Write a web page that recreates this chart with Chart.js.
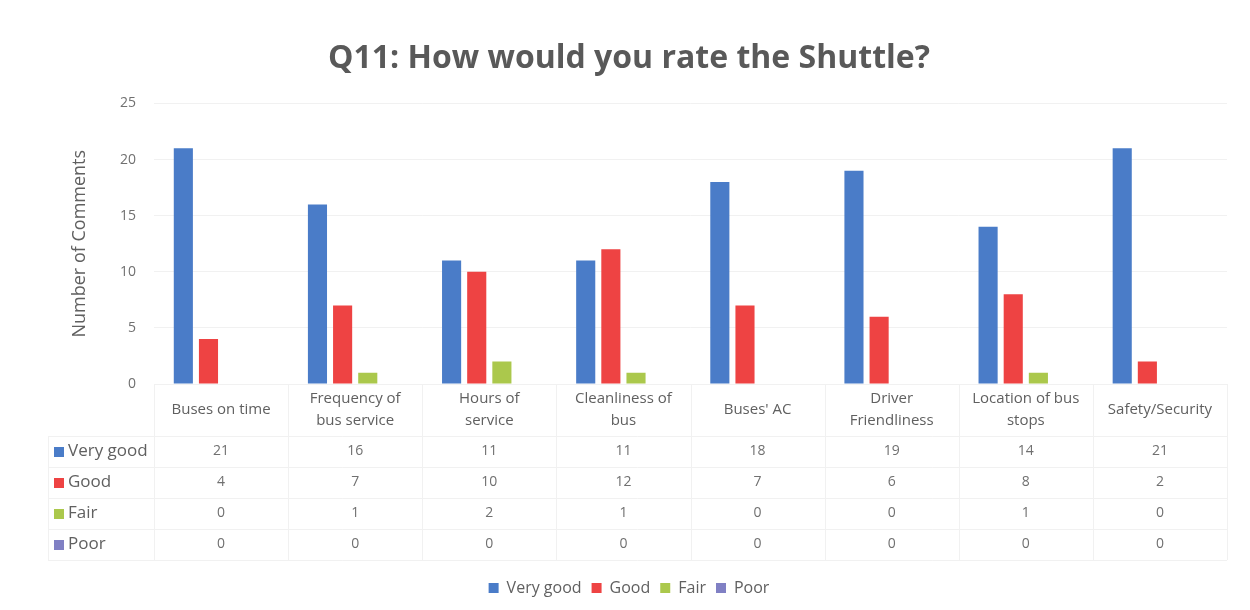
<!DOCTYPE html>
<html>
<head>
<meta charset="utf-8">
<title>Q11: How would you rate the Shuttle?</title>
<script src="https://cdn.jsdelivr.net/npm/chart.js@4.4.1/dist/chart.umd.min.js"></script>
<style>
  html, body { margin: 0; padding: 0; background: #fff; }
  #wrap { width: 1250px; height: 610px; }
</style>
</head>
<body>
<div id="wrap"><canvas id="chart"></canvas></div>
<script>
// Categories (multi-line labels as in the original table header)
const categories = [
    ['Buses on time'],
    ['Frequency of', 'bus service'],
    ['Hours of', 'service'],
    ['Cleanliness of', 'bus'],
    ["Buses' AC"],
    ['Driver', 'Friendliness'],
    ['Location of bus', 'stops'],
    ['Safety/Security']
];

const veryGood = [21, 16, 11, 11, 18, 19, 14, 21];
const good     = [4, 7, 10, 12, 7, 6, 8, 2];
const fair     = [0, 1, 2, 1, 0, 0, 1, 0];
const poor     = [0, 0, 0, 0, 0, 0, 0, 0];

const seriesNames  = ['Very good', 'Good', 'Fair', 'Poor'];
const seriesValues = [veryGood, good, fair, poor];
const seriesColors = ['#4a7cc8', '#ee4343', '#abc84c', '#8080c4'];

const yMin = 0;
const yMax = 25;
const yStep = 5;

const FONT = '"Open Sans", Lato, sans-serif';
const textGray = '#606060';
const numGray = '#707070';
const lineGray = '#f1f1f1';

// Data table drawn under the plot, one column per category
const dataTablePlugin = {
    id: 'dataTable',
    afterDraw(chart) {
        const { ctx, chartArea, scales } = chart;
        const x = scales.x;
        const n = categories.length;
        const colW = (chartArea.right - chartArea.left) / n;
        const top = chartArea.bottom;
        const headerH = 52;
        const rowH = 31;
        const keyLeft = 48;
        const bottom = top + headerH + rowH * seriesNames.length;

        ctx.save();
        ctx.strokeStyle = lineGray;
        ctx.lineWidth = 1;

        // horizontal rules
        ctx.beginPath();
        ctx.moveTo(chartArea.left, top + 0.5);
        ctx.lineTo(chartArea.right, top + 0.5);
        for (let r = 0; r <= seriesNames.length; r++) {
            const y = Math.round(top + headerH + r * rowH) + 0.5;
            ctx.moveTo(keyLeft, y);
            ctx.lineTo(chartArea.right, y);
        }
        // vertical rules
        for (let i = 0; i <= n; i++) {
            const xx = Math.round(chartArea.left + i * colW) + 0.5;
            ctx.moveTo(xx, top);
            ctx.lineTo(xx, bottom);
        }
        ctx.moveTo(keyLeft + 0.5, top + headerH);
        ctx.lineTo(keyLeft + 0.5, bottom);
        ctx.stroke();

        // header: category names
        ctx.fillStyle = textGray;
        ctx.textAlign = 'center';
        ctx.textBaseline = 'middle';
        ctx.font = '15px ' + FONT;
        categories.forEach((lines, i) => {
            const cx = x.getPixelForValue(i);
            const cy = top + headerH / 2;
            const lh = 22;
            lines.forEach((txt, k) => {
                ctx.fillText(txt, cx, cy + (k - (lines.length - 1) / 2) * lh);
            });
        });

        // rows
        seriesNames.forEach((name, r) => {
            const cy = top + headerH + r * rowH + rowH / 2;
            ctx.fillStyle = seriesColors[r];
            ctx.fillRect(54, Math.round(cy - 5), 10, 10);
            ctx.fillStyle = textGray;
            ctx.textAlign = 'left';
            ctx.font = '17px ' + FONT;
            ctx.fillText(name, 68, cy);
            ctx.textAlign = 'center';
            ctx.fillStyle = numGray;
            ctx.font = '14px ' + FONT;
            seriesValues[r].forEach((v, i) => {
                ctx.fillText(String(v), x.getPixelForValue(i), cy);
            });
        });
        ctx.restore();
    }
};

const whiteBg = {
    id: 'whiteBg',
    beforeDraw(chart) {
        const { ctx } = chart;
        ctx.save();
        ctx.fillStyle = '#fff';
        ctx.fillRect(0, 0, chart.width, chart.height);
        ctx.restore();
    }
};

const ctx = document.getElementById('chart').getContext('2d');
new Chart(ctx, {
    type: 'bar',
    data: {
        labels: categories,
        datasets: seriesNames.map((name, i) => ({
            label: name,
            data: seriesValues[i],
            backgroundColor: seriesColors[i],
            borderWidth: 0,
            categoryPercentage: 0.75,
            barPercentage: 0.76
        }))
    },
    options: {
        responsive: true,
        maintainAspectRatio: false,
        animation: false,
        layout: { padding: { left: 8, right: 0, top: 0, bottom: 4 } },
        scales: {
            x: {
                display: true,
                grid: { display: false },
                border: { display: false },
                ticks: { display: false },
                afterFit(scale) { scale.height = 186; }
            },
            y: {
                min: yMin,
                max: yMax,
                ticks: {
                    stepSize: yStep,
                    color: numGray,
                    font: { family: FONT, size: 14 },
                    padding: 18
                },
                grid: { color: lineGray, drawTicks: false },
                border: { display: false },
                title: {
                    display: true,
                    text: 'Number of Comments',
                    color: textGray,
                    font: { family: FONT, size: 18 },
                    padding: { top: 61, bottom: 0 }
                },
                afterFit(scale) { scale.width = 146; }
            },
            // empty right-hand margin so the plot ends where the original does
            yRight: {
                position: 'right',
                display: true,
                grid: { display: false },
                border: { display: false },
                ticks: { display: false },
                afterFit(scale) { scale.width = 23; }
            }
        },
        plugins: {
            title: {
                display: true,
                text: 'Q11: How would you rate the Shuttle?',
                color: '#595959',
                font: { family: FONT, size: 32, weight: 'bold' },
                padding: { top: 40, bottom: 25 }
            },
            legend: {
                position: 'bottom',
                labels: {
                    boxWidth: 10,
                    boxHeight: 10,
                    padding: 10,
                    color: textGray,
                    font: { family: FONT, size: 16 }
                }
            },
            tooltip: { enabled: false }
        }
    },
    plugins: [whiteBg, dataTablePlugin]
});
</script>
</body>
</html>
